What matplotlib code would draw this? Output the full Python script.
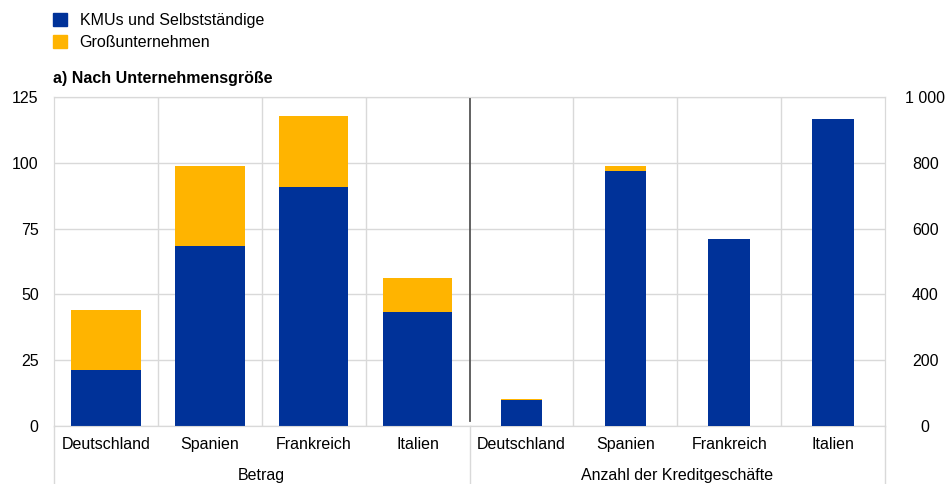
import matplotlib.pyplot as plt
from matplotlib.patches import Patch
from matplotlib.ticker import FuncFormatter

plt.rcParams['font.family'] = ['Liberation Sans', 'DejaVu Sans']

countries = ['Deutschland', 'Spanien', 'Frankreich', 'Italien']
groups = ['Betrag', 'Anzahl der Kreditgeschäfte']

# left axis: Betrag
betrag_kmu = [21.3, 68.4, 90.8, 43.3]
betrag_gross = [22.8, 30.4, 27.0, 12.9]

# right axis: Anzahl der Kreditgeschäfte
anzahl_kmu = [80, 776, 567, 932]
anzahl_gross = [1.5, 15, 2, 2]

blue = '#003299'
yellow = '#FFB400'
grid = '#d9d9d9'

fig = plt.figure(figsize=(9.52, 4.84), dpi=100)
ax = fig.add_axes([54 / 952, 58 / 484, 831 / 952, 329 / 484])
ax2 = ax.twinx()

x_left = [0, 1, 2, 3]
x_right = [4, 5, 6, 7]

ax.bar(x_left, betrag_kmu, 0.67, color=blue, zorder=3)
ax.bar(x_left, betrag_gross, 0.67, bottom=betrag_kmu, color=yellow, zorder=3)
ax2.bar(x_right, anzahl_kmu, 0.40, color=blue, zorder=3)
ax2.bar(x_right, anzahl_gross, 0.40, bottom=anzahl_kmu, color=yellow, zorder=3)

ax.set_xlim(-0.5, 7.5)
ax.set_ylim(0, 125)
ax2.set_ylim(0, 1000)
ax.set_yticks([0, 25, 50, 75, 100, 125])
ax2.set_yticks([0, 200, 400, 600, 800, 1000])
ax2.yaxis.set_major_formatter(FuncFormatter(lambda v, p: f'{int(v):,}'.replace(',', ' ')))

ax.set_xticks(x_left + x_right)
ax.set_xticklabels(countries + countries)

ax.grid(axis='y', color=grid, linewidth=1, zorder=0)
for xv in [0.5, 1.5, 2.5, 4.5, 5.5, 6.5]:
    ax.axvline(xv, color=grid, linewidth=1, zorder=0)
ax.plot([3.5, 3.5], [0.015, 1.0], color='#555555', linewidth=1.3,
        transform=ax.get_xaxis_transform(), zorder=4)

for a in (ax, ax2):
    for s in a.spines.values():
        s.set_color(grid)
    a.tick_params(length=0, labelsize=11.5, colors='black')
ax.tick_params(axis='y', pad=11)
ax.tick_params(axis='x', pad=8)
ax2.tick_params(axis='y', pad=29)
for lab in ax2.get_yticklabels():
    lab.set_horizontalalignment('center')

# group labels and separators below the axis
trans = ax.get_xaxis_transform()
ax.text(1.5, -0.15, groups[0], transform=trans, ha='center', va='center', fontsize=11.5)
ax.text(5.5, -0.15, groups[1], transform=trans, ha='center', va='center', fontsize=11.5)
for xv in [-0.5, 3.5, 7.5]:
    ax.plot([xv, xv], [0, -0.18], color=grid, linewidth=1, transform=trans, clip_on=False)

fig.text(53 / 952, 1 - 78 / 484, 'a) Nach Unternehmensgröße', fontsize=11.5,
         fontweight='bold', va='center', ha='left')

handles = [Patch(color=blue, label='KMUs und Selbstständige'),
           Patch(color=yellow, label='Großunternehmen')]
fig.legend(handles=handles, loc='upper left', bbox_to_anchor=(43 / 952, 1 - 3 / 484),
           frameon=False, fontsize=11.5, handlelength=0.9, handleheight=0.9,
           handletextpad=0.8, labelspacing=0.45, borderaxespad=0.2)

fig.savefig('out.png', dpi=100)
